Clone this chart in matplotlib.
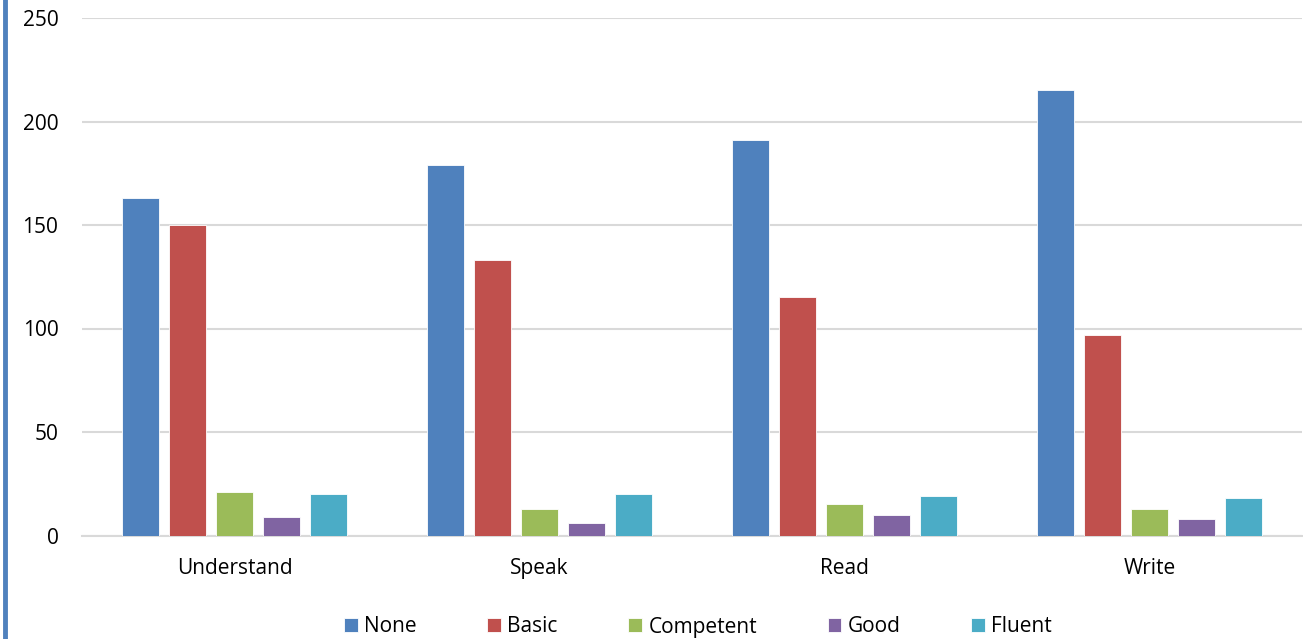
import matplotlib
matplotlib.use('agg')
import matplotlib.pyplot as plt
from matplotlib.lines import Line2D
import numpy as np

categories = ['Understand', 'Speak', 'Read', 'Write']
levels = ['None', 'Basic', 'Competent', 'Good', 'Fluent']
none_vals = [163, 179, 191, 215]
basic_vals = [150, 133, 115, 97]
competent_vals = [21, 13, 15, 13]
good_vals = [9, 6, 10, 8]
fluent_vals = [20, 20, 19, 18]
yticks = [0, 50, 100, 150, 200, 250]

color = ['#4f81bd', '#c0504d', '#9bbb59', '#8064a2', '#4bacc6']
series = [none_vals, basic_vals, competent_vals, good_vals, fluent_vals]

plt.rcParams['font.family'] = ['Open Sans', 'DejaVu Sans']

fig = plt.figure(figsize=(13.03, 6.39), dpi=100)
ax = fig.add_axes([82/1303, 1-535.5/639, 1220/1303, 517.5/639])

x = np.arange(len(categories))
step = 0.154
w = 0.121
for n in range(len(series)):
    ax.bar(x + (n-2)*step, series[n], width=w, color=color[n],
           edgecolor='white', linewidth=0.6, label=levels[n], zorder=3)

ax.set_xlim(-0.5, 3.5)
ax.set_ylim(0, 250)
ax.set_yticks(yticks)
ax.set_xticks(x)
ax.set_xticklabels(categories)
ax.tick_params(axis='both', length=0, labelsize=15, colors='black')
ax.tick_params(axis='x', pad=16.5)
ax.tick_params(axis='y', pad=17)
ax.grid(axis='y', color='#d9d9d9', linewidth=1.5, zorder=0)
for s in ['top', 'right', 'left']:
    ax.spines[s].set_visible(False)
ax.spines['bottom'].set_color('#d9d9d9')
ax.spines['bottom'].set_linewidth(1.5)

ax.legend(loc='center', bbox_to_anchor=(698/1303, 1-627/639),
          bbox_transform=fig.transFigure, ncol=5, frameon=False,
          fontsize=15, handlelength=0.65, handleheight=0.65,
          handletextpad=0.3, columnspacing=3.4)

fig.add_artist(Line2D([5/1303, 5/1303], [0, 1], transform=fig.transFigure,
                      color='#4f81bd', linewidth=3.5))

plt.savefig('out.png', dpi=100)
